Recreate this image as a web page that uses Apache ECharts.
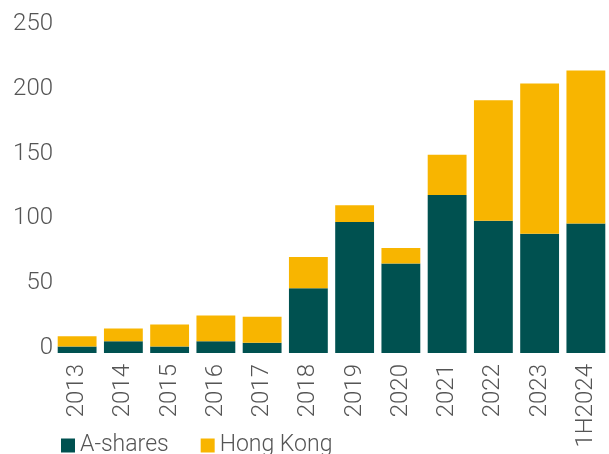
<!DOCTYPE html>
<html lang="en">
<head>
    <meta charset="UTF-8">
    <title>A-shares vs Hong Kong</title>
    <style>
        * { padding: 0; margin: 0; }
        body { background: #fff; }
    </style>
</head>
<body>
    <div id="chart" style="width: 609px; height: 454px;"></div>
    <script src="https://cdn.jsdelivr.net/npm/echarts@6/dist/echarts.min.js"></script>
    <script>
        const categories = ['2013', '2014', '2015', '2016', '2017', '2018', '2019', '2020', '2021', '2022', '2023', '1H2024']
        const aShares = [5, 9, 5, 9, 8, 50, 101, 69, 122, 102, 92, 100]
        const hongKong = [8, 10, 17, 20, 20, 24, 13, 12, 31, 93, 116, 118]

        const textColor = '#555555'
        const font = 'Roboto'

        let chart = echarts.init(document.getElementById('chart'))

        chart.setOption({
            animation: false,
            grid: {
                left: 54,
                right: -4,
                top: 29,
                bottom: 101
            },
            legend: {
                left: 56,
                top: 429,
                itemWidth: 14,
                itemHeight: 14,
                itemGap: 32,
                icon: 'rect',
                textStyle: { color: textColor, fontSize: 23, fontFamily: font, fontWeight: 300 },
                data: ['A-shares', 'Hong Kong']
            },
            xAxis: {
                type: 'category',
                data: categories,
                axisLine: { show: false },
                axisTick: { show: false },
                axisLabel: {
                    rotate: 90,
                    interval: 0,
                    margin: 11,
                    color: textColor,
                    fontSize: 24,
                    fontWeight: 300,
                    fontFamily: font
                }
            },
            yAxis: {
                type: 'value',
                min: 0,
                max: 250,
                interval: 50,
                splitLine: { show: false },
                axisLine: { show: false },
                axisTick: { show: false },
                axisLabel: {
                    margin: 1,
                    color: textColor,
                    fontSize: 24,
                    fontWeight: 300,
                    fontFamily: font,
                    verticalAlign: 'bottom',
                    lineHeight: 10
                }
            },
            series: [{
                name: 'A-shares',
                type: 'bar',
                stack: 'total',
                barCategoryGap: '16%',
                itemStyle: { color: '#005150' },
                data: aShares
            }, {
                name: 'Hong Kong',
                type: 'bar',
                stack: 'total',
                barCategoryGap: '16%',
                itemStyle: { color: '#F8B500' },
                data: hongKong
            }]
        })
    </script>
</body>
</html>
